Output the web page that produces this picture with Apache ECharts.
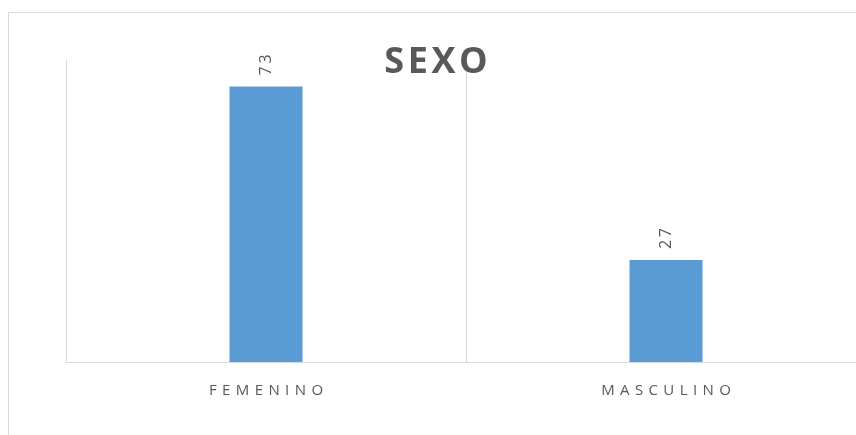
<!DOCTYPE html>
<html>
<head>
<meta charset="utf-8">
<script src="https://cdn.jsdelivr.net/npm/echarts@6/dist/echarts.min.js"></script>
<style>
  html, body { margin: 0; padding: 0; background: #fff; overflow: hidden; }
  /* el gráfico original está recortado por la derecha */
  #chart { width: 866px; height: 435px; }
</style>
</head>
<body>
<div id="chart"></div>
<script>
// datos
const categorias = ["FEMENINO", "MASCULINO"];
const valores = [73, 27];
const titulo = "SEXO";

// espaciado entre letras (como en Excel)
function espaciar(txt, sep) {
  return String(txt).split("").join(sep);
}

let myChart = echarts.init(document.getElementById("chart"));

let option = {
  animation: false,
  title: {
    text: espaciar(titulo, "\u200A"),
    left: 431,
    top: 40,
    textAlign: "center",
    textStyle: {
      fontFamily: "Open Sans",
      fontSize: 36,
      fontWeight: "bold",
      color: "#595959",
    },
  },
  graphic: [
    {
      type: "rect",
      shape: { x: 8.5, y: 12.5, width: 900, height: 500 },
      style: { fill: "none", stroke: "#d9d9d9", lineWidth: 1 },
      z: -1,
    },
  ],
  grid: {
    left: 66,
    top: 60,
    width: 800,
    height: 302,
  },
  xAxis: {
    type: "category",
    data: categorias,
    axisLine: { lineStyle: { color: "#d9d9d9", width: 1 } },
    axisTick: { show: false },
    splitLine: {
      show: true,
      interval: 0,
      lineStyle: { color: "#d9d9d9", width: 1 },
    },
    axisLabel: {
      margin: 21,
      fontFamily: "Open Sans",
      fontSize: 15,
      color: "#595959",
      formatter: (v) => espaciar(v, " \u200A"),
    },
  },
  yAxis: {
    type: "value",
    min: 0,
    max: 80,
    show: false,
    splitLine: { show: false },
  },
  series: [
    {
      type: "bar",
      data: valores,
      barWidth: 73,
      itemStyle: { color: "#5b9bd5" },
      label: {
        show: true,
        position: "top",
        distance: 11,
        rotate: 90,
        align: "left",
        verticalAlign: "middle",
        fontFamily: "Open Sans",
        fontSize: 16,
        color: "#595959",
        formatter: (p) => espaciar(p.value, "\u2009"),
      },
    },
  ],
};

myChart.setOption(option);
</script>
</body>
</html>
